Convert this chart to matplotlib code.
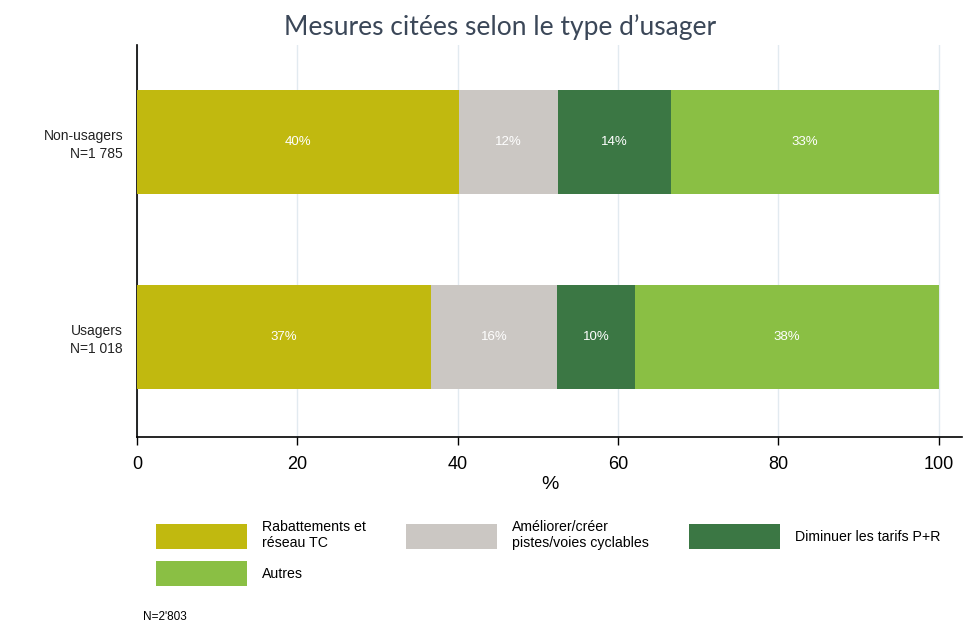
import numpy as np
import matplotlib
matplotlib.use('Agg')
import matplotlib.pyplot as plt

# data
groups = ['Usagers\nN=1 018', 'Non-usagers\nN=1 785']
categories = ['Rabattements et\nréseau TC', 'Améliorer/créer\npistes/voies cyclables',
              'Diminuer les tarifs P+R', 'Autres']
usagers = [36.7, 15.7, 9.7, 37.9]
non_usagers = [40.2, 12.3, 14.1, 33.4]
colors = ['#c1b90f', '#cbc7c3', '#3b7744', '#8abf44']

plt.rcParams['font.family'] = ['Liberation Sans', 'DejaVu Sans']

fig = plt.figure(figsize=(9.74, 6.25), dpi=100)
ax = fig.add_axes([137/974, 188/625, 825/974, 392/625])

values = np.array([usagers, non_usagers])
ypos = np.arange(len(groups))
left = np.zeros(len(groups))
handles = []
for i, cat in enumerate(categories):
    bars = ax.barh(ypos, values[:, i], left=left, height=0.533, color=colors[i],
                   label=cat, zorder=3)
    ax.bar_label(bars, labels=['%d%%' % round(v) for v in values[:, i]],
                 label_type='center', color='white', fontsize=9.5)
    handles.append(bars)
    left += values[:, i]

ax.set_xlim(0, 102.9)
ax.set_ylim(-0.513, 1.497)
ax.set_xticks([0, 20, 40, 60, 80, 100])
ax.set_yticks(ypos)
ax.set_yticklabels(groups, fontsize=10, color='#222222', linespacing=1.3)
ax.tick_params(axis='y', length=0, pad=10)
ax.tick_params(axis='x', labelsize=13, length=6, width=1, pad=8)
ax.grid(axis='x', color='#e2eaf0', linewidth=1, zorder=0)
for s in ['top', 'right']:
    ax.spines[s].set_visible(False)
ax.spines['left'].set_linewidth(1.2)
ax.spines['bottom'].set_linewidth(1.2)
ax.set_xlabel('%', fontsize=14, labelpad=2)

fig.text(500/974, 1 - 27/625, 'Mesures citées selon le type d\u2019usager',
         ha='center', va='center', fontsize=19, color='#3b4758', family='Lato')

# legend filled row-wise: matplotlib fills by column, so reorder
order = [0, 3, 1, 2]
fig.legend([handles[k] for k in order], [categories[k] for k in order],
           loc='upper left', bbox_to_anchor=(156/974, 1 - 520/625), ncol=3,
           frameon=False, fontsize=10.2, handlelength=6.42, handleheight=2.34,
           handletextpad=1.06, columnspacing=2.85, labelspacing=0.78,
           borderpad=0, borderaxespad=0)

fig.text(143/974, 1 - 617/625, "N=2'803", fontsize=8.5, va='center')

fig.savefig('out.png', dpi=100)
